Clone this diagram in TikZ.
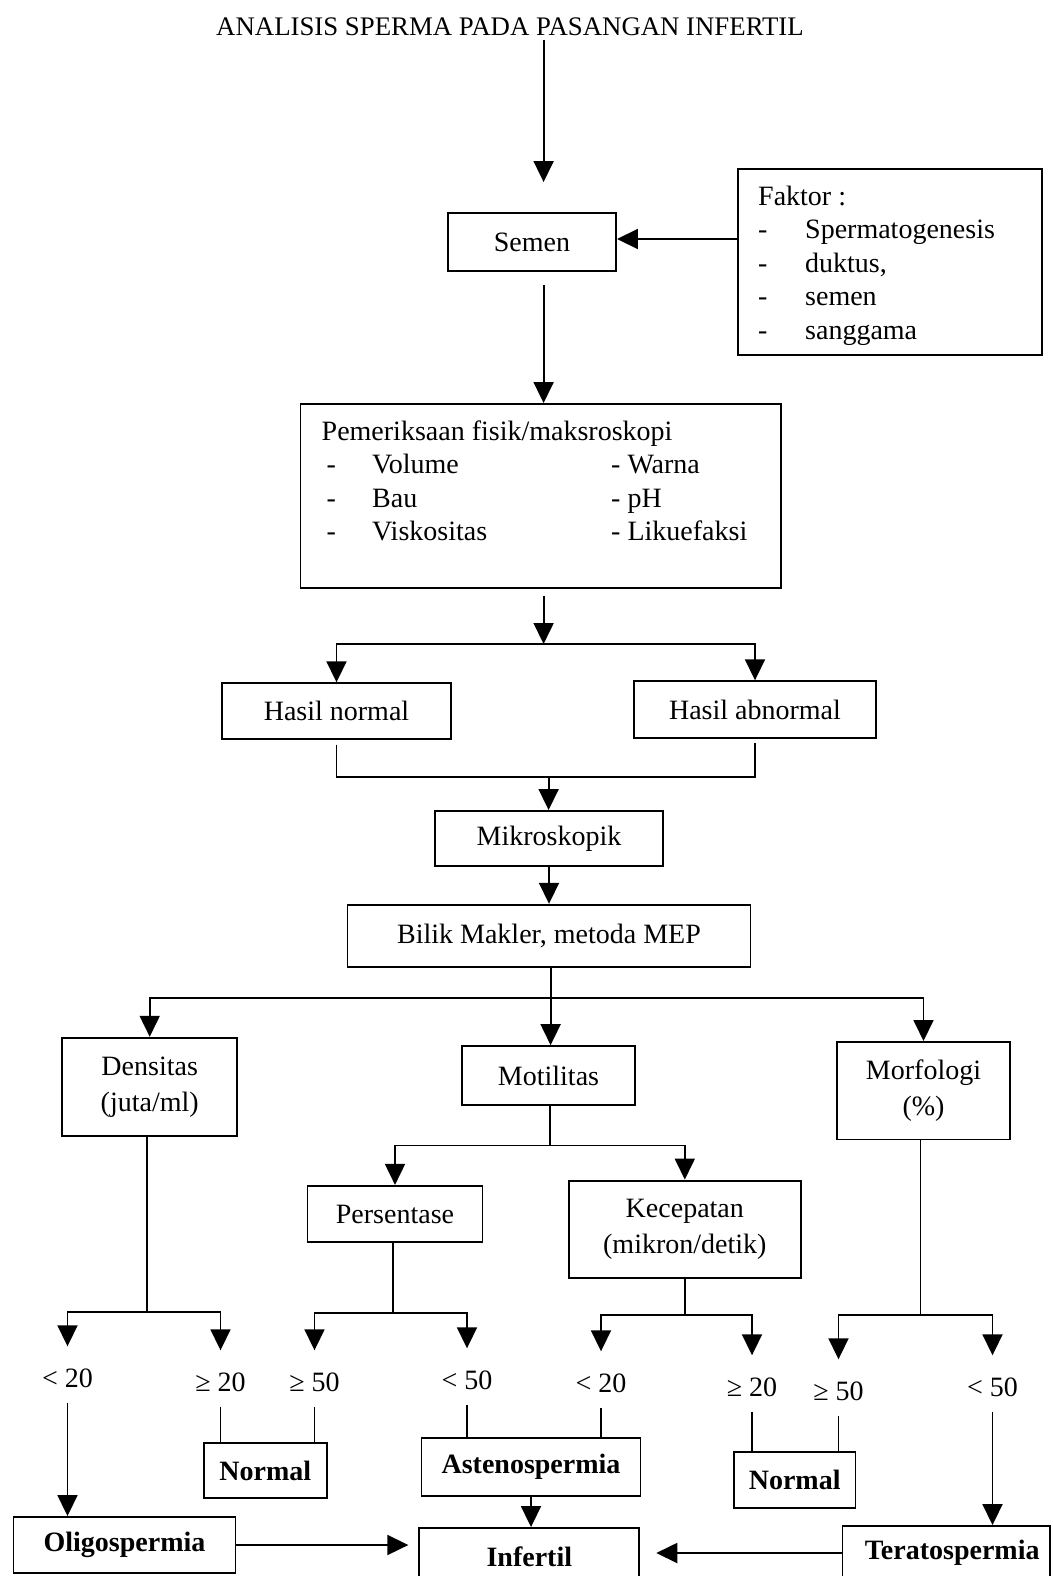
\documentclass[tikz,border=0pt]{standalone}
\usepackage{fontspec}
\setmainfont{Liberation Serif}
\usetikzlibrary{arrows.meta}
\begin{document}
\begin{tikzpicture}[x=1pt,y=-1pt,
  every node/.style={inner sep=0pt},
  box/.style={draw, line width=1.9pt, rectangle, align=center, font=\fontsize{28}{35.5}\selectfont},
  bbox/.style={box, font=\fontsize{28}{34}\selectfont\bfseries},
  ln/.style={line width=1.8pt},
  arr/.style={line width=1.8pt, -{Triangle[length=21pt,width=20pt]}},
  lbl/.style={font=\fontsize{28}{34}\selectfont, text height=19pt, text depth=0pt},
  txt/.style={font=\fontsize{28}{33.6}\selectfont}
]
\useasboundingbox (0,0) rectangle (1052,1576);
\clip (0,0) rectangle (1052,1576);

% title
\node[font=\fontsize{26.8}{30}\selectfont, anchor=base] (title) at (510,36) {ANALISIS SPERMA PADA PASANGAN INFERTIL};
\coordinate (t1) at (543.6,40);

% boxes
\node[box, minimum width=168pt, minimum height=58pt] (semen) at (532,242) {Semen};
\node[box, minimum width=304.5pt, minimum height=186pt] (faktor) at (890,262) {};
\node[txt, anchor=base west] (faktortxt) at (758,205) {\begin{tabular}[t]{@{}p{47pt}@{}l@{}}\multicolumn{2}{@{}l@{}}{Faktor :}\\ - & Spermatogenesis\\ - & duktus,\\ - & semen\\ - & sanggama\end{tabular}};

\node[box, minimum width=480.5pt, minimum height=184pt] (pemer) at (540.7,496) {};
\node[txt, anchor=base west] (pemertxt) at (321.5,440) {\begin{tabular}[t]{@{}p{50.5pt}@{}p{239pt}@{}l@{}}\multicolumn{3}{@{}l@{}}{Pemeriksaan fisik/maksroskopi}\\ \hspace{5pt}- & Volume & - Warna\\ \hspace{5pt}- & Bau & - pH\\ \hspace{5pt}- & Viskositas & - Likuefaksi\end{tabular}};

\node[box, minimum width=229pt, minimum height=55.5pt] (hn) at (336.5,711) {Hasil normal};
\node[box, minimum width=242pt, minimum height=56.5pt] (ha) at (755,709.5) {Hasil abnormal};
\node[box, minimum width=228pt, minimum height=55pt] (mik) at (549,838.5) {Mikroskopik};
\node[box, minimum width=403pt, minimum height=62.5pt] (bilik) at (549,936) {Bilik Makler, metoda MEP};
\node[box, minimum width=175pt, minimum height=98.5pt] (dens) at (149.7,1087) {Densitas\\(juta/ml)};
\node[box, minimum width=173pt, minimum height=59pt] (mot) at (548.5,1075.6) {Motilitas};
\node[box, minimum width=173pt, minimum height=97.5pt] (morf) at (923.5,1090.7) {Morfologi\\(\%)};
\node[box, minimum width=175pt, minimum height=56.3pt] (pers) at (395,1214) {Persentase};
\node[box, minimum width=232pt, minimum height=97.5pt] (kec) at (684.8,1229.3) {Kecepatan\\(mikron/detik)};

% threshold labels
\node[lbl] (l1) at (67.5,1378) {< 20};
\node[lbl] (l2) at (220.5,1382) {≥ 20};
\node[lbl] (l3) at (314.5,1382) {≥ 50};
\node[lbl] (l4) at (467,1380) {< 50};
\node[lbl] (l5) at (601,1383) {< 20};
\node[lbl] (l6) at (752,1387) {≥ 20};
\node[lbl] (l7) at (838.5,1391) {≥ 50};
\node[lbl] (l8) at (992.5,1387) {< 50};

% result boxes
\node[bbox, minimum width=122.7pt, minimum height=55.6pt] (n1) at (265.3,1470.5) {Normal};
\node[bbox, minimum width=219pt, minimum height=58pt] (ast) at (531,1467) {Astenospermia};
\node[bbox, minimum width=121.5pt, minimum height=56pt] (n2) at (794.7,1480) {Normal};
\node[bbox, minimum width=222pt, minimum height=56pt] (oligo) at (124.5,1545) {Oligospermia};
\node[bbox, minimum width=220pt, minimum height=58pt] (inf) at (529.3,1557) {Infertil};
\node[bbox, minimum width=207.5pt, minimum height=54pt] (tera) at (946.2,1553) {\hspace*{12pt}Teratospermia};

% connectors
\draw[arr, shorten >=30pt] (t1) -- (t1 |- semen.north);
\draw[arr] (faktor.west |- 0,239) -- (semen.east |- 0,239);
\draw[arr, shorten <=13pt] (semen.south -| t1) -- (t1 |- pemer.north);

\coordinate (j1) at (543.6,644);
\draw[arr, shorten <=7pt] (pemer.south -| j1) -- (j1);
\draw[arr] (j1) -| (hn.north);
\draw[arr] (j1) -| (ha.north);

\coordinate (j2) at (548.6,777);
\draw[ln, shorten <=5pt] (hn.south) |- (j2);
\draw[ln, shorten <=4pt] (ha.south) |- (j2);
\draw[arr] (j2) -- (j2 |- mik.north);
\draw[arr] (mik.south) -- (bilik.north);

\coordinate (j3) at (550.6,997.8);
\draw[ln] (bilik.south -| j3) -- (j3);
\draw[arr] (j3) -| (dens.north);
\draw[arr] (j3) -- (j3 |- mot.north);
\draw[arr] (j3) -| (morf.north);

\coordinate (j4) at (549.6,1145.5);
\draw[ln] (mot.south -| j4) -- (j4);
\draw[arr] (j4) -| (pers.north);
\draw[arr] (j4) -| (kec.north);

\coordinate (j5) at (146.7,1312);
\draw[ln] (dens.south -| j5) -- (j5);
\draw[arr, shorten >=22pt] (j5) -| (l1.north);
\draw[arr, shorten >=22pt] (j5) -| (l2.north);

\coordinate (j6) at (392.7,1312.7);
\draw[ln] (pers.south -| j6) -- (j6);
\draw[arr, shorten >=22pt] (j6) -| (l3.north);
\draw[arr, shorten >=22pt] (j6) -| (l4.north);

\coordinate (j7) at (685.3,1315);
\draw[ln] (kec.south -| j7) -- (j7);
\draw[arr, shorten >=22pt] (j7) -| (l5.north);
\draw[arr, shorten >=22pt] (j7) -| (l6.north);

\coordinate (j8) at (920.5,1315);
\draw[ln] (morf.south -| j8) -- (j8);
\draw[arr, shorten >=22pt] (j8) -| (l7.north);
\draw[arr, shorten >=22pt] (j8) -| (l8.north);

\draw[arr, shorten <=15pt] (l1.south) -- (l1.south |- oligo.north);
\draw[ln, shorten <=15pt] (l2.south) -- (l2.south |- n1.north);
\draw[ln, shorten <=15pt] (l3.south) -- (l3.south |- n1.north);
\draw[ln, shorten <=15pt] (l4.south) -- (l4.south |- ast.north);
\draw[ln, shorten <=15pt] (l5.south) -- (l5.south |- ast.north);
\draw[ln, shorten <=15pt] (l6.south) -- (l6.south |- n2.north);
\draw[ln, shorten <=15pt] (l7.south) -- (l7.south |- n2.north);
\draw[arr, shorten <=15pt] (l8.south) -- (l8.south |- tera.north);
\draw[arr] (ast.south) -- (ast.south |- inf.north);
\draw[arr, shorten >=10pt] (oligo.east) -- (oligo.east -| inf.west);
\draw[arr, shorten >=16pt] (tera.west) -- (tera.west -| inf.east);
\end{tikzpicture}
\end{document}
